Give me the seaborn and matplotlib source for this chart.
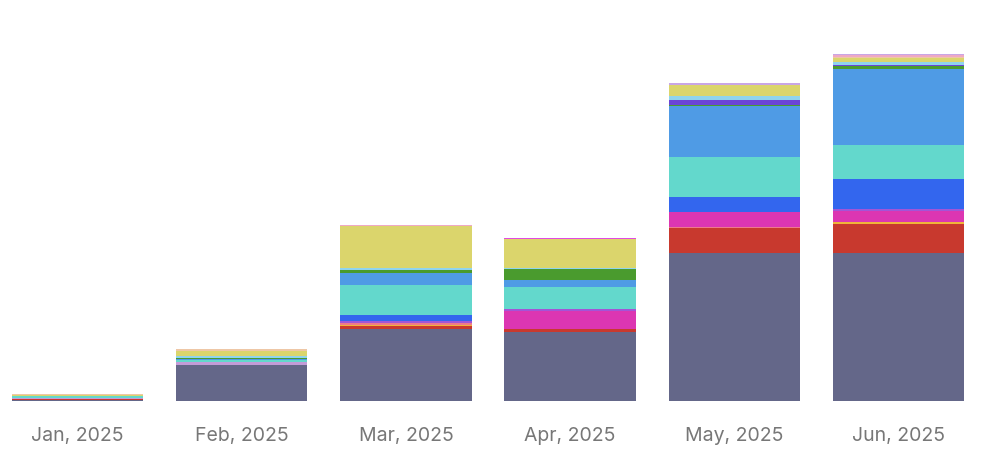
import matplotlib
matplotlib.use("Agg")
import matplotlib.pyplot as plt
import seaborn as sns
import numpy as np
import pandas as pd

months = ["Jan, 2025", "Feb, 2025", "Mar, 2025", "Apr, 2025", "May, 2025", "Jun, 2025"]

# stacked series, bottom to top
slate     = [1.2, 36.0, 72.0, 69.0, 148.0, 148.0]
red       = [0.8, 0.0, 3.0, 3.5, 25.5, 29.5]
orange    = [0.0, 0.0, 1.5, 0.0, 0.0, 1.5]
salmon    = [0.0, 0.0, 2.0, 0.0, 0.6, 0.0]
magenta   = [0.0, 0.0, 0.0, 18.0, 14.5, 11.5]
purple    = [0.0, 0.0, 2.0, 1.5, 0.0, 1.5]
lilac     = [0.8, 3.0, 0.0, 0.0, 0.0, 0.0]
blue      = [0.0, 0.0, 6.0, 0.0, 15.0, 30.0]
teal      = [2.2, 2.0, 30.0, 22.0, 40.0, 34.0]
sky       = [0.0, 1.0, 12.0, 7.5, 51.0, 76.0]
green     = [0.0, 1.0, 2.5, 11.0, 1.0, 3.0]
violet    = [0.0, 0.0, 0.0, 0.0, 5.0, 1.5]
lightcyan = [0.0, 2.0, 2.5, 1.0, 4.0, 3.0]
yellow    = [1.5, 5.5, 41.5, 29.0, 11.5, 3.5]
peach     = [0.5, 1.5, 0.0, 0.0, 0.0, 1.5]
pink      = [0.0, 0.0, 1.5, 0.0, 0.0, 2.0]
hotpink   = [0.0, 0.0, 0.0, 1.0, 0.0, 0.0]
lavender  = [0.0, 0.0, 0.0, 0.0, 1.5, 1.0]

series = [
    ("slate", slate, "#646789"),
    ("red", red, "#C8392E"),
    ("orange", orange, "#F0B43A"),
    ("salmon", salmon, "#EE7A8A"),
    ("magenta", magenta, "#DC36B2"),
    ("purple", purple, "#A355D6"),
    ("lilac", lilac, "#C39CD8"),
    ("blue", blue, "#3366EE"),
    ("teal", teal, "#63D8CC"),
    ("sky", sky, "#4F9BE5"),
    ("green", green, "#4A9B2E"),
    ("violet", violet, "#6B44D6"),
    ("lightcyan", lightcyan, "#90D4EE"),
    ("yellow", yellow, "#DBD56C"),
    ("peach", peach, "#EEC7A6"),
    ("pink", pink, "#EFA9C4"),
    ("hotpink", hotpink, "#E24BE0"),
    ("lavender", lavender, "#C9A6E6"),
]

sns.set_theme(style="white")
plt.rcParams["font.family"] = ["Inter", "DejaVu Sans"]

fig = plt.figure(figsize=(9.84, 4.76), dpi=100)
ax = fig.add_axes([0, 1 - 401 / 476, 1, 401 / 476])

vals = np.array([s[1] for s in series])
cum = np.cumsum(vals, axis=0)

# draw from top-most cumulative down so lower segments overlay
for i in range(len(series) - 1, -1, -1):
    df = pd.DataFrame({"month": months, "value": cum[i]})
    sns.barplot(data=df, x="month", y="value", color=series[i][2],
                saturation=1, width=0.8, linewidth=0, ax=ax, errorbar=None)

ax.set_xlim(-0.472, 5.521)
ax.set_ylim(0, 401)
ax.set_xlabel("")
ax.set_ylabel("")
ax.set_yticks([])
for sp in ax.spines.values():
    sp.set_visible(False)
ax.tick_params(axis="x", length=0, pad=19, labelsize=14, labelcolor="#777777")

fig.savefig("out.png", dpi=100)
